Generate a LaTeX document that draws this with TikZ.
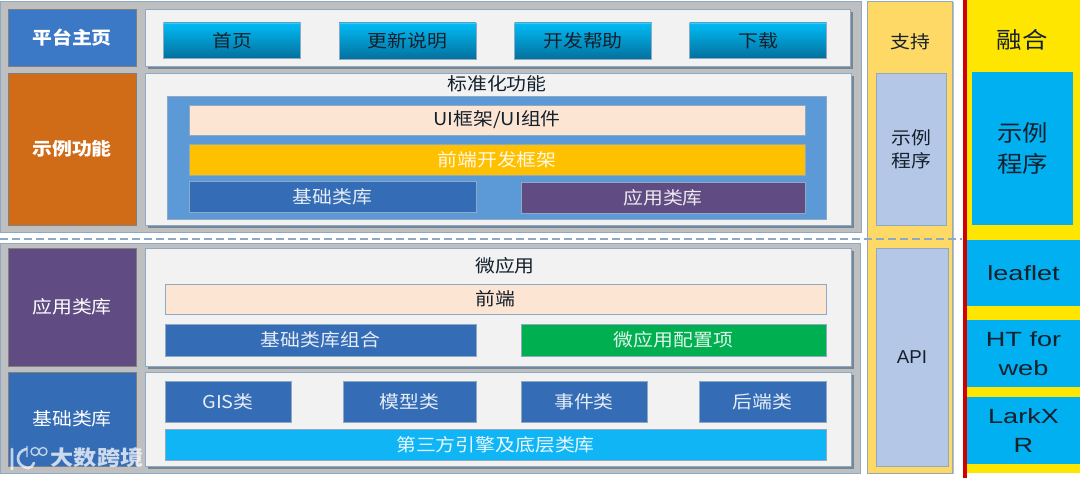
\documentclass[tikz,border=0pt]{standalone}
\usepackage{fontspec}
\setmainfont[FakeStretch=1.12]{Noto Sans CJK SC}
\newfontfamily\latinfont[FakeStretch=1.32]{Liberation Sans}
\newfontfamily\apifont{Liberation Sans}
\usetikzlibrary{shadows}
\definecolor{panelgray}{HTML}{BDBFC1}
\definecolor{panelwhite}{HTML}{F2F2F2}
\definecolor{edgeblue}{HTML}{8FA9C2}
\definecolor{shadowblue}{HTML}{6F8090}
\definecolor{homeblue}{HTML}{3B78C6}
\definecolor{demoorange}{HTML}{D06C18}
\definecolor{libpurple}{HTML}{604C82}
\definecolor{libblue}{HTML}{346CB6}
\definecolor{midblue}{HTML}{5B9AD6}
\definecolor{peach}{HTML}{FDE5D4}
\definecolor{amber}{HTML}{FFC000}
\definecolor{cfggreen}{HTML}{00B050}
\definecolor{skyblue}{HTML}{10B5F5}
\definecolor{btntop}{HTML}{00BCF5}
\definecolor{btnbot}{HTML}{04709E}
\definecolor{supportyel}{HTML}{FFD966}
\definecolor{paleblue}{HTML}{B4C7E7}
\definecolor{mixyel}{HTML}{FFE600}
\definecolor{mixblue}{HTML}{00B0F0}
\definecolor{mixred}{HTML}{D00000}
\definecolor{inkdark}{HTML}{14202C}
\begin{document}
\begin{tikzpicture}[
	x=0.75pt, y=-0.75pt,
	sz/.style 2 args={ minimum width=#1*0.75pt, minimum height=#2*0.75pt },
	block/.style={ rectangle, inner sep=0pt, outer sep=0pt, align=center, draw=edgeblue, line width=0.6pt, font=\fontsize{13.3}{17}\selectfont },
	outerpanel/.style={ block, fill=panelgray, drop shadow={shadow xshift=1pt, shadow yshift=-1pt, fill=black, opacity=0.25} },
	whitepanel/.style={ block, fill=panelwhite, drop shadow={shadow xshift=2.2pt, shadow yshift=-2.2pt, fill=shadowblue, opacity=0.9} },
	sidebox/.style={ block, text=white, draw=gray },
	libbox/.style={ block, fill=libblue, text=white!88!libblue },
	btnbox/.style={ block, top color=btntop, bottom color=btnbot, text=inkdark },
	mixbox/.style={ block, draw=none, fill=mixblue, text=inkdark, font=\latinfont\fontsize{15.4}{21.5}\selectfont },
	plaintext/.style={ inner sep=0pt, text=inkdark, align=center, font=\fontsize{13.3}{17}\selectfont }
]
\useasboundingbox (0,0) rectangle (1080,478);

\node at (430.5,116.5) (outertop) [outerpanel,sz={861}{231}] {};
\node at (430,358) (outerlow) [outerpanel,sz={860}{230}] {};

% left column
\node at (72,37.5) (home) [sidebox,sz={128}{57},fill=homeblue,font=\fontsize{13.3}{17}\selectfont\bfseries] {平台主页};
\node at (72,149) (demo) [sidebox,sz={128}{152},fill=demoorange,font=\fontsize{13.3}{17}\selectfont\bfseries] {示例功能};
\node at (72,307) (applib) [sidebox,sz={128}{118},fill=libpurple] {应用类库};
\node at (72,419) (baselib) [sidebox,sz={128}{94},fill=libblue] {基础类库};

\node at (497.5,37.5) (homepanel) [whitepanel,sz={705}{57}] {};
\node at (498,149) (demopanel) [whitepanel,sz={706}{152}] {};
\node at (498,307) (apppanel) [whitepanel,sz={706}{118}] {};
\node at (498,419) (basepanel) [whitepanel,sz={706}{94}] {};

% home page buttons
\node at (232,40.5) (first) [btnbox,sz={137}{35}] {首页};
\node at (407.5,41) (notes) [btnbox,sz={137}{36}] {更新说明};
\node at (583,41) (help) [btnbox,sz={137}{36}] {开发帮助};
\node at (758,40.5) (download) [btnbox,sz={137}{35}] {下载};

% standard functions
\node at (497,84) (stdtitle) [plaintext] {标准化功能};
\node at (496.5,157.5) (stdblock) [block,sz={659}{123},fill=midblue] {};
\node at (497,120) (uiframe) [block,sz={616}{30},fill=peach,text=inkdark] {UI框架/UI组件};
\node at (497,159.5) (frontend) [block,sz={616}{31},fill=amber,text=white!90!amber] {前端开发框架};
\node at (332.5,196.5) (stdbase) [libbox,sz={287}{31}] {基础类库};
\node at (663,197.5) (stdapp) [block,sz={284}{31},fill=libpurple,text=white!88!libpurple] {应用类库};

% micro app
\node at (505,266) (microtitle) [plaintext] {微应用};
\node at (495.5,299) (fronttier) [block,sz={661}{30},fill=peach,text=inkdark] {前端};
\node at (320.5,340) (combo) [libbox,sz={311}{32}] {基础类库组合};
\node at (673.5,340) (config) [block,sz={305}{32},fill=cfggreen,text=white!88!cfggreen] {微应用配置项};

% base libraries
\node at (228,401.5) (gis) [libbox,sz={126}{41}] {GIS类};
\node at (409.5,401.5) (model) [libbox,sz={133}{41}] {模型类};
\node at (584,401.5) (event) [libbox,sz={126}{41}] {事件类};
\node at (762.5,401.5) (backend) [libbox,sz={127}{41}] {后端类};
\node at (495.5,444.5) (third) [block,sz={661}{31},fill=skyblue,text=white!90!skyblue] {第三方引擎及底层类库};

% support column
\node at (910,237) (support) [block,sz={85}{472},fill=supportyel,drop shadow={shadow xshift=1pt, shadow yshift=-1pt, fill=black, opacity=0.25}] {};
\node at (910,42) (supporttitle) [plaintext] {支持};
\node at (911,149) (supportdemo) [block,sz={70}{152},fill=paleblue,text=inkdark] {示例\\程序};
\node at (912,357) (api) [block,sz={72}{218},fill=paleblue,text=inkdark,font=\apifont\fontsize{14}{16}\selectfont] {API};

% divider
\coordinate (dashl) at (0,239);
\coordinate (dashr) at (962,239);
\draw[edgeblue,line width=1pt,dash pattern=on 6pt off 3pt] (dashl) -- (dashr);

% merge column
\node at (1023.5,236.5) (merge) [block,draw=none,sz={113}{473},fill=mixyel] {};
\coordinate (redtop) at (965,0);
\coordinate (redlow) at (965,478);
\draw[mixred,line width=3pt] (redtop) -- (redlow);
\node at (1022,40) (mergetitle) [plaintext,font=\fontsize{17}{20}\selectfont] {融合};
\node at (1022.5,148.5) (mergedemo) [mixbox,sz={101}{153},font=\fontsize{17}{23}\selectfont] {示例\\程序};
\node at (1023.5,273) (leaflet) [mixbox,sz={113}{66}] {leaflet};
\node at (1023.5,353.5) (htweb) [mixbox,sz={113}{67}] {HT for\\web};
\node at (1023.5,430.5) (lark) [mixbox,sz={113}{67}] {LarkX\\R};

% watermark
\node at (97,458) (mark) [plaintext,text=white,opacity=0.75,font=\fontsize{15.5}{18}\selectfont\bfseries] {大数跨境};
\draw[white,opacity=0.7,line width=2pt,line cap=round] (12,449) -- (12,469) (26,449) .. controls (15,452) and (15,466) .. (28,468) .. controls (31,468) and (33,466) .. (34,463);
\draw[white,opacity=0.7,line width=1pt] (27,446) -- (27,457) (35,451.5) circle (4) (43,451.5) circle (4);
\end{tikzpicture}
\end{document}
